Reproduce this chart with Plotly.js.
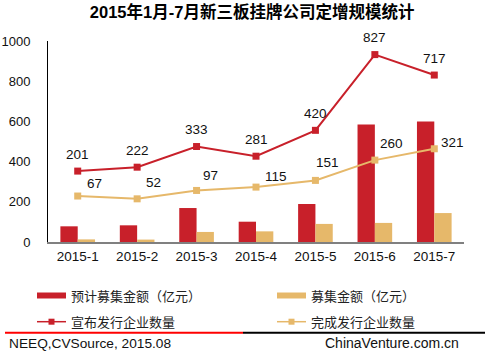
<!DOCTYPE html>
<html>
<head>
<meta charset="utf-8">
<script src="https://cdn.plot.ly/plotly-3.0.1.min.js"></script>
<style>html,body{margin:0;padding:0;background:#fff;}#chart{width:485px;height:354px;}</style>
</head>
<body>
<div id="chart"></div>
<script>
// ---- data ----
const months = ["2015-1","2015-2","2015-3","2015-4","2015-5","2015-6","2015-7"];
const plannedAmount = [78, 83, 169, 101, 189, 584, 599];   // 预计募集金额（亿元）
const raisedAmount  = [13, 12, 50, 53, 90, 95, 144];       // 募集金额（亿元）
const announcedCount = [201, 222, 333, 281, 420, 827, 717]; // 宣布发行企业数量
const completedCount = [67, 52, 97, 115, 151, 260, 321];    // 完成发行企业数量
const seriesNames = ["预计募集金额（亿元）","募集金额（亿元）","宣布发行企业数量","完成发行企业数量"];
const yTicks = [0, 200, 400, 600, 800, 1000];

// ---- style ----
const RED = "#C8202A", TAN = "#E6B86A";
const FONT = "Liberation Sans, Arial, Noto Sans CJK SC, sans-serif";
const CJK = "Noto Sans CJK SC, Liberation Sans, sans-serif";
const W = 485, H = 354, L = 48, R = 464, T = 41, B = 242;
const px = x => (x - L) / (R - L);
const py = y => (B - y) / (B - T);
const tanShiftX = [17, 16, 14, 20, 12, 17, 18];
const tanShiftY = [13, 16, 15, 11, 18, 17, 6];

const traces = [
  {type:"bar", x:months, y:plannedAmount, name:seriesNames[0], marker:{color:RED}, showlegend:false, hoverinfo:"y"},
  {type:"bar", x:months, y:raisedAmount, name:seriesNames[1], marker:{color:TAN}, showlegend:false, hoverinfo:"y"},
  {type:"scatter", mode:"lines+markers", x:months, y:announcedCount, yaxis:"y2", name:seriesNames[2],
   line:{color:RED, width:2}, marker:{symbol:"square", size:7, color:RED}, showlegend:false},
  {type:"scatter", mode:"lines+markers", x:months, y:completedCount, yaxis:"y2", name:seriesNames[3],
   line:{color:TAN, width:2}, marker:{symbol:"square", size:7, color:TAN}, showlegend:false}
];

const annotations = [];
months.forEach((m, i) => {
  annotations.push({x:m, y:announcedCount[i], xref:"x", yref:"y2", text:String(announcedCount[i]),
    showarrow:false, yshift:17, font:{family:FONT, size:13.5, color:"#111"}});
  annotations.push({x:m, y:completedCount[i], xref:"x", yref:"y2", text:String(completedCount[i]),
    showarrow:false, xshift:tanShiftX[i], yshift:tanShiftY[i], font:{family:FONT, size:13.5, color:"#111"}});
});

// legend (drawn manually)
const legendRows = [295.5, 321.7];
const legendCols = [37, 277];
const shapes = [];
const legendItems = [
  {col:0,row:0,kind:"bar",color:RED,name:seriesNames[0]},
  {col:1,row:0,kind:"bar",color:TAN,name:seriesNames[1]},
  {col:0,row:1,kind:"line",color:RED,name:seriesNames[2]},
  {col:1,row:1,kind:"line",color:TAN,name:seriesNames[3]}
];
legendItems.forEach(it => {
  const x0 = legendCols[it.col], x1 = x0 + 29, yc = legendRows[it.row];
  if (it.kind === "bar") {
    shapes.push({type:"rect", xref:"paper", yref:"paper", x0:px(x0), x1:px(x1), y0:py(yc+3), y1:py(yc-3),
      fillcolor:it.color, line:{width:0}});
  } else {
    shapes.push({type:"line", xref:"paper", yref:"paper", x0:px(x0), x1:px(x1), y0:py(yc), y1:py(yc),
      line:{color:it.color, width:1.5}});
    const mc = (x0 + x1) / 2;
    shapes.push({type:"rect", xref:"paper", yref:"paper", x0:px(mc-3), x1:px(mc+3), y0:py(yc+3), y1:py(yc-3),
      fillcolor:it.color, line:{width:0}});
  }
  annotations.push({xref:"paper", yref:"paper", x:px(x1+3), y:py(yc), xanchor:"left", yanchor:"middle",
    text:it.name, showarrow:false, font:{family:CJK, size:13, color:"#222"}});
});

// footer
shapes.push({type:"line", xref:"paper", yref:"paper", x0:px(5), x1:px(243), y0:py(332.7), y1:py(332.7), line:{color:"#FF0000", width:2}});
shapes.push({type:"line", xref:"paper", yref:"paper", x0:px(243), x1:px(485), y0:py(332.7), y1:py(332.7), line:{color:"#000", width:2}});
annotations.push({xref:"paper", yref:"paper", x:px(7), y:py(343), xanchor:"left", yanchor:"middle",
  text:"NEEQ,CVSource, 2015.08", showarrow:false, font:{family:FONT, size:13.7, color:"#111"}});
annotations.push({xref:"paper", yref:"paper", x:px(461), y:py(343), xanchor:"right", yanchor:"middle",
  text:"ChinaVenture.com.cn", showarrow:false, font:{family:FONT, size:14, color:"#111"}});

const layout = {
  width:W, height:H,
  margin:{l:L, r:W-R, t:T, b:H-B, pad:0},
  paper_bgcolor:"#fff", plot_bgcolor:"#fff",
  title:{text:"2015年1月-7月新三板挂牌公司定增规模统计", x:238/W, xanchor:"center", xref:"paper",
    y:1-12/H, yref:"container", yanchor:"middle",
    font:{family:"Liberation Sans, Noto Sans CJK SC, sans-serif", size:16.5, color:"#000", weight:"bold"}},
  barmode:"group", bargap:0.417, bargroupgap:0,
  showlegend:false,
  xaxis:{type:"category", range:[-0.5, 6.5], showgrid:false, zeroline:false, showline:true, linecolor:"#808080", linewidth:2,
    ticks:"", ticklabelstandoff:1, tickfont:{family:FONT, size:13.5, color:"#111"}, fixedrange:true},
  yaxis:{range:[0,1000], tickvals:yTicks, showgrid:false, zeroline:false, showline:true, linecolor:"#000", linewidth:1,
    ticks:"", ticklabelstandoff:14, tickfont:{family:FONT, size:13, color:"#111"}, fixedrange:true},
  yaxis2:{overlaying:"y", side:"right", range:[-180, 900], visible:false, showgrid:false, zeroline:false, fixedrange:true},
  shapes:shapes,
  annotations:annotations
};

Plotly.newPlot("chart", traces, layout, {staticPlot:true, displayModeBar:false});
</script>
</body>
</html>
